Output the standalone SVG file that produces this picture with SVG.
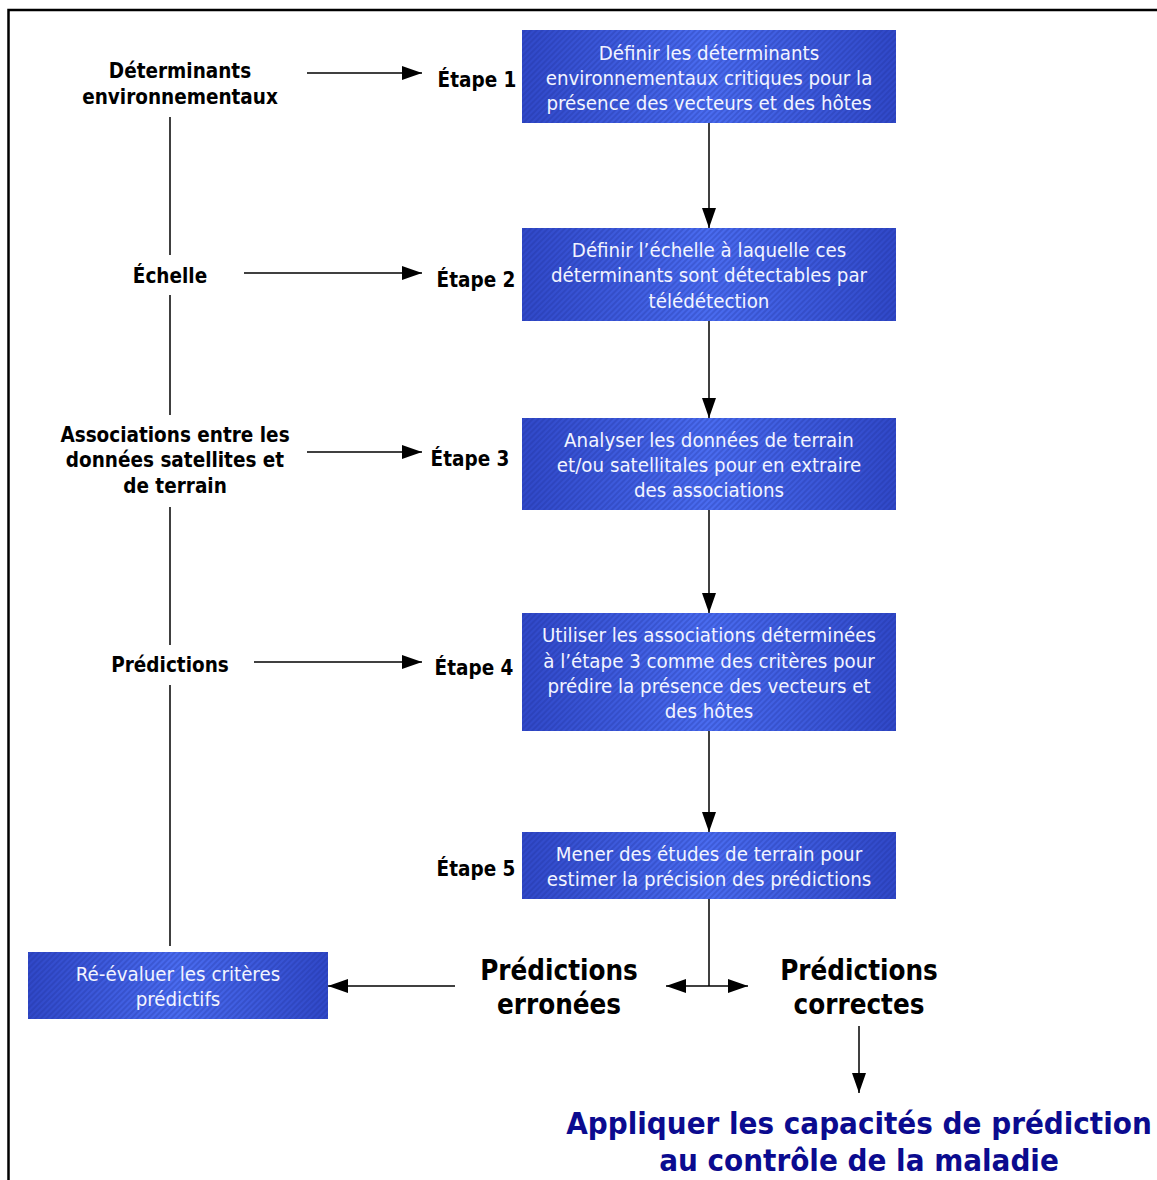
<svg xmlns="http://www.w3.org/2000/svg" width="1157" height="1180" viewBox="0 0 1157 1180">
<defs>
<linearGradient id="bg" x1="0" y1="0" x2="1" y2="0">
<stop offset="0" stop-color="#3048c8"/>
<stop offset="0.5" stop-color="#4a6cf0"/>
<stop offset="1" stop-color="#3048c8"/>
</linearGradient>
<pattern id="stripe" width="4" height="4" patternUnits="userSpaceOnUse" patternTransform="rotate(-45)">
<rect width="4" height="2" fill="#1a2a90" opacity="0.25"/>
</pattern>
<marker id="ah" viewBox="0 0 20 14" refX="20" refY="7" markerWidth="20" markerHeight="14" markerUnits="userSpaceOnUse" orient="auto">
<path d="M0,0 L20,7 L0,14 Z" fill="#000"/>
</marker>
<marker id="ahs" viewBox="0 0 20 14" refX="20" refY="7" markerWidth="20" markerHeight="14" markerUnits="userSpaceOnUse" orient="auto-start-reverse">
<path d="M0,0 L20,7 L0,14 Z" fill="#000"/>
</marker>
</defs>
<style>
.box{fill:url(#bg)}
.tex{fill:url(#stripe)}
.bt{font-family:"DejaVu Sans Condensed","DejaVu Sans",sans-serif;font-size:20.3px;fill:#f2f4ff;text-anchor:middle}
.lb{font-family:"DejaVu Sans Condensed","DejaVu Sans",sans-serif;font-size:20.5px;font-weight:bold;fill:#000;text-anchor:middle}
.big{font-family:"DejaVu Sans Condensed","DejaVu Sans",sans-serif;font-size:27.5px;font-weight:bold;fill:#000;text-anchor:middle}
.fin{font-family:"DejaVu Sans Condensed","DejaVu Sans",sans-serif;font-size:31px;font-weight:bold;fill:#0b0b8f;text-anchor:middle}
.ln{stroke:#000;stroke-width:1.5;fill:none}
</style>
<g id="frame"><path d="M1157,10 H8.5 V1180" stroke="#000" stroke-width="2.5" fill="none"/></g>

<g id="connectors">
<line class="ln" x1="170" y1="117" x2="170" y2="255"/>
<line class="ln" x1="170" y1="295" x2="170" y2="415"/>
<line class="ln" x1="170" y1="507" x2="170" y2="645"/>
<line class="ln" x1="170" y1="685" x2="170" y2="946"/>
<line class="ln" x1="307" y1="73" x2="422" y2="73" marker-end="url(#ah)"/>
<line class="ln" x1="244" y1="273" x2="422" y2="273" marker-end="url(#ah)"/>
<line class="ln" x1="307" y1="452" x2="422" y2="452" marker-end="url(#ah)"/>
<line class="ln" x1="254" y1="662" x2="422" y2="662" marker-end="url(#ah)"/>
<line class="ln" x1="709" y1="123" x2="709" y2="228" marker-end="url(#ah)"/>
<line class="ln" x1="709" y1="321" x2="709" y2="418" marker-end="url(#ah)"/>
<line class="ln" x1="709" y1="510" x2="709" y2="613" marker-end="url(#ah)"/>
<line class="ln" x1="709" y1="731" x2="709" y2="832" marker-end="url(#ah)"/>
<line class="ln" x1="709" y1="899" x2="709" y2="986"/>
<line class="ln" x1="666" y1="986" x2="748" y2="986" marker-start="url(#ahs)" marker-end="url(#ah)"/>
<line class="ln" x1="455" y1="986" x2="328" y2="986" marker-end="url(#ah)"/>
<line class="ln" x1="859" y1="1026" x2="859" y2="1093" marker-end="url(#ah)"/>
</g>

<g id="lbl-det"><text class="lb" x="180" y="78">Déterminants</text><text class="lb" x="180" y="104">environnementaux</text></g>
<g id="lbl-ech"><text class="lb" x="170" y="283">Échelle</text></g>
<g id="lbl-assoc"><text class="lb" x="175" y="442">Associations entre les</text><text class="lb" x="175" y="467">données satellites et</text><text class="lb" x="175" y="493">de terrain</text></g>
<g id="lbl-pred"><text class="lb" x="170" y="672">Prédictions</text></g>

<g id="etape1"><text class="lb" x="477" y="87">Étape 1</text></g>
<g id="etape2"><text class="lb" x="476" y="287">Étape 2</text></g>
<g id="etape3"><text class="lb" x="470" y="466">Étape 3</text></g>
<g id="etape4"><text class="lb" x="474" y="675">Étape 4</text></g>
<g id="etape5"><text class="lb" x="476" y="876">Étape 5</text></g>

<g id="box1"><rect class="box" x="522" y="30" width="374" height="93"/><rect class="tex" x="522" y="30" width="374" height="93"/>
<text class="bt" x="709" y="60">Définir les déterminants</text><text class="bt" x="709" y="85">environnementaux critiques pour la</text><text class="bt" x="709" y="110">présence des vecteurs et des hôtes</text></g>
<g id="box2"><rect class="box" x="522" y="228" width="374" height="93"/><rect class="tex" x="522" y="228" width="374" height="93"/>
<text class="bt" x="709" y="257">Définir l’échelle à laquelle ces</text><text class="bt" x="709" y="282">déterminants sont détectables par</text><text class="bt" x="709" y="308">télédétection</text></g>
<g id="box3"><rect class="box" x="522" y="418" width="374" height="92"/><rect class="tex" x="522" y="418" width="374" height="92"/>
<text class="bt" x="709" y="447">Analyser les données de terrain</text><text class="bt" x="709" y="472">et/ou satellitales pour en extraire</text><text class="bt" x="709" y="497">des associations</text></g>
<g id="box4"><rect class="box" x="522" y="613" width="374" height="118"/><rect class="tex" x="522" y="613" width="374" height="118"/>
<text class="bt" x="709" y="642">Utiliser les associations déterminées</text><text class="bt" x="709" y="668">à l’étape 3 comme des critères pour</text><text class="bt" x="709" y="693">prédire la présence des vecteurs et</text><text class="bt" x="709" y="718">des hôtes</text></g>
<g id="box5"><rect class="box" x="522" y="832" width="374" height="67"/><rect class="tex" x="522" y="832" width="374" height="67"/>
<text class="bt" x="709" y="861">Mener des études de terrain pour</text><text class="bt" x="709" y="886">estimer la précision des prédictions</text></g>
<g id="box-reeval"><rect class="box" x="28" y="952" width="300" height="67"/><rect class="tex" x="28" y="952" width="300" height="67"/>
<text class="bt" x="178" y="981">Ré-évaluer les critères</text><text class="bt" x="178" y="1006">prédictifs</text></g>

<g id="erronees"><text class="big" x="559" y="980">Prédictions</text><text class="big" x="559" y="1014">erronées</text></g>
<g id="correctes"><text class="big" x="859" y="980">Prédictions</text><text class="big" x="859" y="1014">correctes</text></g>
<g id="appliquer"><text class="fin" x="859" y="1134">Appliquer les capacités de prédiction</text><text class="fin" x="859" y="1171">au contrôle de la maladie</text></g>
</svg>
